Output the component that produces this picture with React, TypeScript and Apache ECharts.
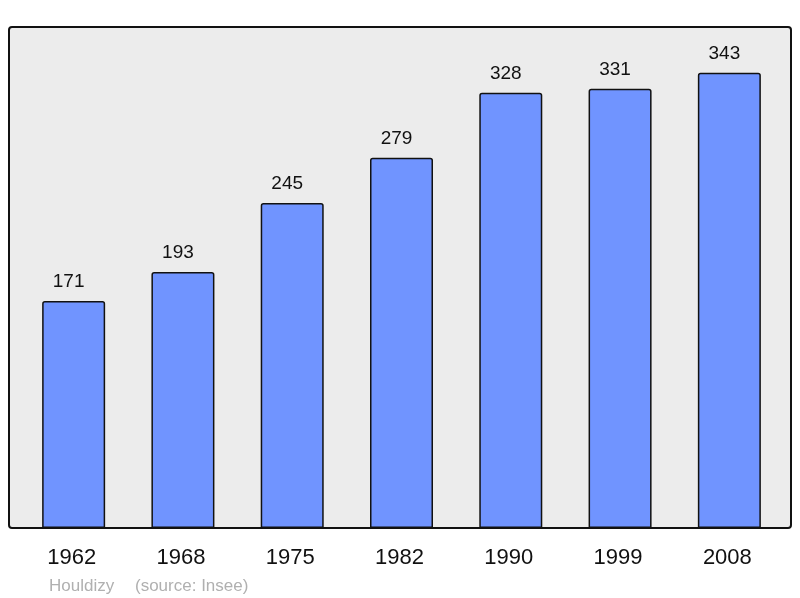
import React, { useEffect, useRef } from "react";
import * as echarts from "echarts";

const years = ["1962", "1968", "1975", "1982", "1990", "1999", "2008"];
const population = [171, 193, 245, 279, 328, 331, 343];
const footerAuthor = "Houldizy";
const footerSource = "(source: Insee)";

export default function App() {
  const ref = useRef<HTMLDivElement>(null);
  useEffect(() => {
    if (!ref.current) return;
    const chart = echarts.init(ref.current, null, { renderer: "svg" });
    chart.setOption({
      animation: false,
      textStyle: { fontFamily: "Liberation Sans, Arial, sans-serif" },
      grid: { left: 19, right: 16, top: 37, bottom: 70, containLabel: false },
      graphic: [
        {
          type: "rect",
          z: -10,
          shape: { x: 9, y: 27, width: 782, height: 501, r: 3 },
          style: { fill: "#ececec", stroke: "#111111", lineWidth: 2 },
          silent: true,
        },
        {
          type: "text",
          x: 49,
          y: 585,
          style: {
            text: footerAuthor,
            fill: "#b0b0b0",
            fontSize: 17,
            fontFamily: "Liberation Sans, Arial, sans-serif",
            verticalAlign: "middle",
          },
        },
        {
          type: "text",
          x: 135,
          y: 585,
          style: {
            text: footerSource,
            fill: "#b0b0b0",
            fontSize: 17,
            fontFamily: "Liberation Sans, Arial, sans-serif",
            verticalAlign: "middle",
          },
        },
      ],
      xAxis: {
        type: "category",
        data: years,
        axisLine: { show: false },
        axisTick: { show: false },
        axisLabel: { color: "#111", fontSize: 22, margin: 17, padding: [0, 4, 0, 0] },
      },
      yAxis: {
        type: "value",
        min: 0,
        max: 370,
        show: false,
        splitLine: { show: false },
      },
      series: [
        {
          type: "bar",
          data: population,
          barWidth: 63,
          itemStyle: {
            color: "#7094ff",
            borderColor: "#111111",
            borderWidth: 1.5,
            borderRadius: [2, 2, 0, 0],
          },
          label: {
            show: true,
            position: "top",
            distance: 11,
            offset: [-5, 0],
            color: "#111",
            fontSize: 19,
          },
        },
      ],
    });
    return () => chart.dispose();
  }, []);
  return (
    <div
      ref={ref}
      style={{ position: "fixed", left: 0, top: 0, width: 800, height: 598 }}
    />
  );
}
